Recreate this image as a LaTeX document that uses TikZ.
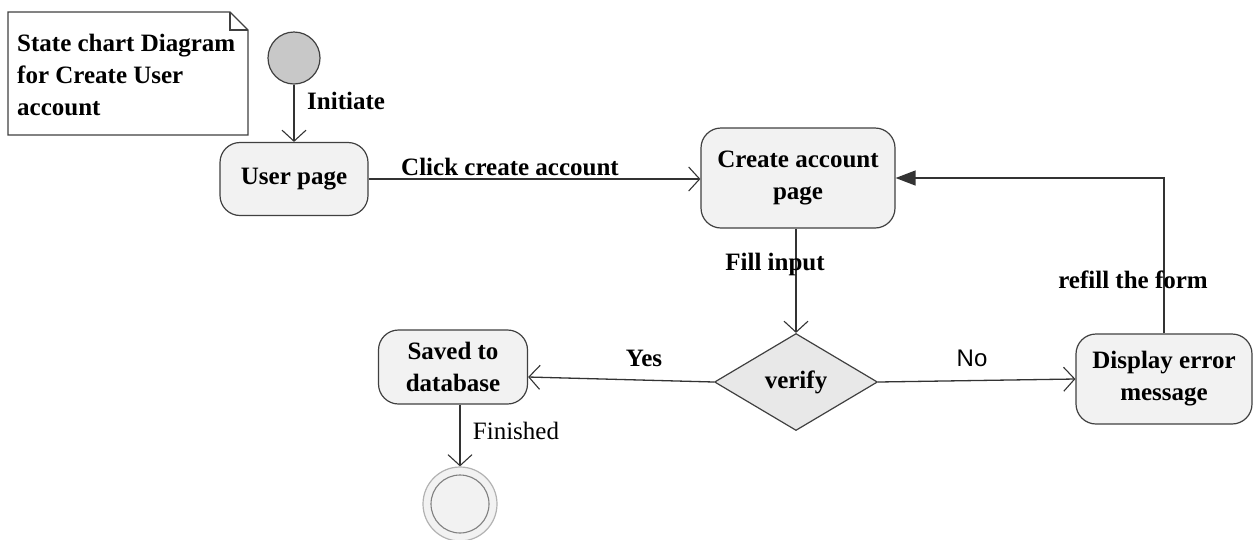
\documentclass[tikz,border=0pt]{standalone}
\usepackage{fontspec}
\setmainfont{Liberation Serif}
\newfontfamily\lsans{Liberation Sans}
\usetikzlibrary{arrows.meta,shapes.geometric}
\definecolor{boxfill}{HTML}{F2F2F2}
\definecolor{boxdraw}{HTML}{404040}
\definecolor{initfill}{HTML}{C8C8C8}
\definecolor{diafill}{HTML}{E8E8E8}
\begin{document}
\begin{tikzpicture}[x=1pt,y=-1pt,
  every node/.style={font=\fontsize{25}{32}\selectfont\bfseries, text=black},
  statebox/.style={draw=boxdraw, fill=boxfill, line width=1.2pt, rounded corners=20pt, align=center, inner sep=0pt},
  lbl/.style={inner sep=0pt},
  conn/.style={draw=black!80, line width=1.3pt, -{Straight Barb[length=11pt,width=24pt,line width=1.1pt]}},
  back/.style={draw=black!80, line width=1.3pt, -{Triangle[length=20pt,width=15pt]}}
]
\useasboundingbox (0,0) rectangle (1255,539);
% note
\draw[line width=1.1pt, draw=boxdraw, fill=white] (8,12) -- (230,12) -- (248,30) -- (248,135) -- (8,135) -- cycle;
\draw[line width=1.1pt, draw=boxdraw] (230,12) -- (230,30) -- (248,30);
\node[lbl, anchor=west, align=left] (note) at (17,75) {State chart Diagram\\for Create User\\account};
% initial
\node[circle, draw=boxdraw, fill=initfill, line width=1.2pt, minimum size=52pt, inner sep=0pt] (init) at (294,58) {};
% states
\node[statebox, minimum width=148pt, minimum height=73pt] (user) at (294,179) {User page};
\node[statebox, minimum width=194pt, minimum height=100pt] (create) at (798,178) {Create account\\page};
\node[diamond, draw=boxdraw, fill=diafill, line width=1.2pt, inner sep=0pt, minimum width=163pt, minimum height=97pt] (verify) at (796,382) {verify};
\node[statebox, minimum width=176pt, minimum height=90pt] (disp) at (1164,379) {Display error\\message};
\node[statebox, minimum width=149pt, minimum height=74pt] (saved) at (453,367) {Saved to\\database};
% final
\node[circle, draw=black!30, fill=boxfill, line width=1.2pt, minimum size=74pt, inner sep=0pt] (final) at (460,504) {};
\node[circle, draw=black!50, line width=1.1pt, minimum size=58pt, inner sep=0pt] (finalin) at (final.center) {};
% connectors
\draw[conn] (init) -- (user);
\draw[conn] (user) -- (create.west |- user.east);
\draw[conn] (create.south -| verify.north) -- (verify.north);
\draw[conn] (verify.east) -- (disp.west);
\draw[conn] (verify.west) -- ([yshift=-10pt]saved.east);
\draw[conn] (saved.south -| final.north) -- (final.north);
\coordinate (turn) at (disp.north |- create.east);
\draw[back] (disp.north) -- (turn) -- (create.east);
% labels
\node[lbl, anchor=west] (l1) at (307,101) {Initiate};
\node[lbl] (l2) at (510,167) {Click create account};
\node[lbl] (l3) at (775,264) {Fill input};
\node[lbl] (l4) at (1133,280) {refill the form};
\node[lbl] (l5) at (644,358) {Yes};
\node[lbl, font=\lsans\fontsize{24}{28}\selectfont] (l6) at (972,358) {No};
\node[lbl, font=\fontsize{25}{30}\selectfont] (l7) at (516,431) {Finished};
\end{tikzpicture}
\end{document}
